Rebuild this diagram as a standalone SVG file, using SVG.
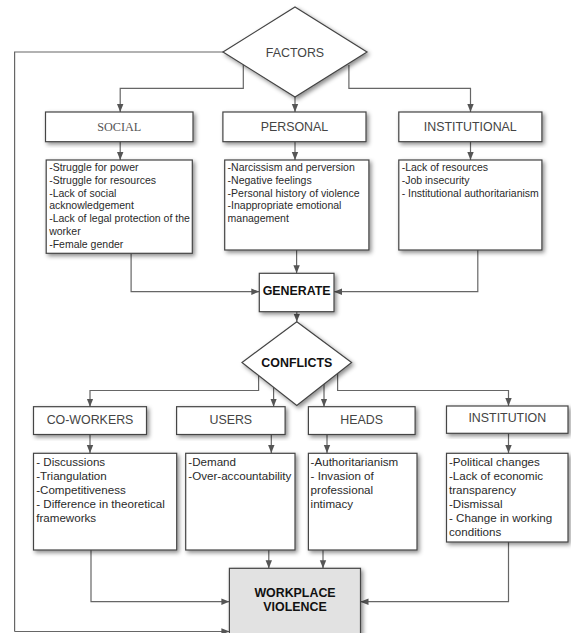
<svg xmlns="http://www.w3.org/2000/svg" width="571" height="633" viewBox="0 0 571 633">
<defs>
<filter id="sh" x="-20%" y="-20%" width="140%" height="140%">
<feDropShadow dx="2" dy="2.2" stdDeviation="2.2" flood-color="#000" flood-opacity="0.45"/>
</filter>
<marker id="ar" markerUnits="userSpaceOnUse" markerWidth="8" markerHeight="8" viewBox="0 0 8 8" refX="8" refY="4" orient="auto">
<path d="M0,0.8 L8,4 L0,7.2 Z" fill="#555"/>
</marker>
</defs>
<style>
.bx{fill:#fff;stroke:#444;stroke-width:1.2;filter:url(#sh)}
.con{fill:none;stroke:#666;stroke-width:1.2;marker-end:url(#ar)}
.ln{fill:none;stroke:#666;stroke-width:1.2}
.lb{font-family:"Liberation Sans",Arial,sans-serif;font-size:12.4px;fill:#444;text-anchor:middle}
.bd{font-family:"Liberation Sans",Arial,sans-serif;font-size:12.4px;font-weight:bold;fill:#111;text-anchor:middle}
.t1{font-family:"Liberation Sans",Arial,sans-serif;font-size:10.5px;fill:#2a2a2a}
.t2{font-family:"Liberation Sans",Arial,sans-serif;font-size:11.6px;fill:#2a2a2a}
</style>
<rect width="571" height="633" fill="#fff"/>

<g id="connectors">
<path class="ln" d="M223,52 H14.6 V631.5"/>
<path class="con" d="M14.6,631.5 H229.4"/>
<path class="con" d="M243.3,65 V88.3 H120.2 V112"/>
<path class="con" d="M295,97 V112"/>
<path class="con" d="M348.9,65 V88.3 H470.5 V112"/>
<path class="con" d="M120.2,141.7 V160"/>
<path class="con" d="M295,141.7 V160"/>
<path class="con" d="M470.5,141.7 V160"/>
<path class="con" d="M131.1,253.3 V291.7 H259.3"/>
<path class="con" d="M296.6,250 V273.3"/>
<path class="con" d="M477.8,250 V291.7 H334"/>
<path class="con" d="M296.8,311.7 V321.7"/>
<path class="con" d="M258.6,375 V390.5 H90 V406.7"/>
<path class="con" d="M273.6,386.5 V406.7"/>
<path class="con" d="M324,383.2 V406.7"/>
<path class="con" d="M337.6,372.6 V390.5 H508.5 V406"/>
<path class="con" d="M90,435 V453"/>
<path class="con" d="M271.3,435 V453"/>
<path class="con" d="M327,435 V453"/>
<path class="con" d="M508.5,433.3 V453"/>
<path class="con" d="M91,550 V601.7 H229.4"/>
<path class="con" d="M268.8,550 V568.3"/>
<path class="con" d="M323,550 V568.3"/>
<path class="con" d="M508.5,542 V601.7 H360.5"/>
</g>

<g id="factors">
<path class="bx" d="M295,7 L367,52 L295,97 L223,52 Z"/>
<text class="lb" x="295" y="56.5" font-size="12.2" fill="#555">FACTORS</text>
</g>

<g id="social">
<rect class="bx" x="45.5" y="112" width="147.5" height="29.7"/>
<text class="lb" x="119.3" y="131" style="font-family:'Liberation Serif','Times New Roman',serif;font-size:12.2px;fill:#555">SOCIAL</text>
</g>
<g id="personal">
<rect class="bx" x="222.9" y="112" width="143.1" height="29.7"/>
<text class="lb" x="294.4" y="131" fill="#555">PERSONAL</text>
</g>
<g id="institutional">
<rect class="bx" x="398.8" y="112" width="143.1" height="29.7"/>
<text class="lb" x="470.3" y="131" fill="#111">INSTITUTIONAL</text>
</g>

<g id="social-details">
<rect class="bx" x="46.2" y="160" width="146.1" height="93.3"/>
<text class="t1" x="49.2" y="171">-Struggle for power</text>
<text class="t1" x="49.2" y="183.8">-Struggle for resources</text>
<text class="t1" x="49.2" y="196.6">-Lack of social</text>
<text class="t1" x="49.2" y="209.4">acknowledgement</text>
<text class="t1" x="49.2" y="222.2">-Lack of legal protection of the</text>
<text class="t1" x="49.2" y="235">worker</text>
<text class="t1" x="49.2" y="247.8">-Female gender</text>
</g>
<g id="personal-details">
<rect class="bx" x="224.7" y="160" width="144.2" height="90"/>
<text class="t1" x="227.6" y="171">-Narcissism and perversion</text>
<text class="t1" x="227.6" y="183.8">-Negative feelings</text>
<text class="t1" x="227.6" y="196.6">-Personal history of violence</text>
<text class="t1" x="227.6" y="209.4">-Inappropriate emotional</text>
<text class="t1" x="227.6" y="222.2">management</text>
</g>
<g id="institutional-details">
<rect class="bx" x="398.8" y="160" width="143.1" height="90"/>
<text class="t1" x="401.7" y="171">-Lack of resources</text>
<text class="t1" x="401.7" y="183.8">-Job insecurity</text>
<text class="t1" x="401.7" y="196.6">- Institutional authoritarianism</text>
</g>

<g id="generate">
<rect class="bx" x="259.3" y="273.3" width="74.7" height="38.4"/>
<text class="bd" x="296.6" y="295.2">GENERATE</text>
</g>

<g id="conflicts">
<path class="bx" d="M296.8,321.7 L351.6,362.5 L296.8,405.5 L242,362.5 Z"/>
<text class="bd" x="296.8" y="367">CONFLICTS</text>
</g>

<g id="co-workers">
<rect class="bx" x="33.5" y="406.7" width="113" height="27.8"/>
<text class="lb" x="90" y="423.5" fill="#333">CO-WORKERS</text>
</g>
<g id="users">
<rect class="bx" x="176.6" y="406.7" width="108.5" height="27.8"/>
<text class="lb" x="230.8" y="423.5" fill="#333">USERS</text>
</g>
<g id="heads">
<rect class="bx" x="308.4" y="406.7" width="106.7" height="27.8"/>
<text class="lb" x="361.7" y="423.5" fill="#333">HEADS</text>
</g>
<g id="institution">
<rect class="bx" x="446.5" y="406" width="121.5" height="27.3"/>
<text class="lb" x="507.3" y="421.8" fill="#333">INSTITUTION</text>
</g>

<g id="co-workers-details">
<rect class="bx" x="33.5" y="453.3" width="143.2" height="96.7"/>
<text class="t2" x="36.2" y="466">- Discussions</text>
<text class="t2" x="36.2" y="479.9">-Triangulation</text>
<text class="t2" x="36.2" y="493.8">-Competitiveness</text>
<text class="t2" x="36.2" y="507.7">- Difference in theoretical</text>
<text class="t2" x="36.2" y="521.6">frameworks</text>
</g>
<g id="users-details">
<rect class="bx" x="185.7" y="453.3" width="109.3" height="96.7"/>
<text class="t2" x="188.3" y="466">-Demand</text>
<text class="t2" x="188.3" y="479.9">-Over-accountability</text>
</g>
<g id="heads-details">
<rect class="bx" x="308.4" y="453.3" width="108.6" height="96.7"/>
<text class="t2" x="310.6" y="466">-Authoritarianism</text>
<text class="t2" x="310.6" y="479.9">- Invasion of</text>
<text class="t2" x="310.6" y="493.8">professional</text>
<text class="t2" x="310.6" y="507.7">intimacy</text>
</g>
<g id="institution-details">
<rect class="bx" x="446.5" y="453.3" width="121.5" height="88.7"/>
<text class="t2" x="449" y="466">-Political changes</text>
<text class="t2" x="449" y="479.9">-Lack of economic</text>
<text class="t2" x="449" y="493.8">transparency</text>
<text class="t2" x="449" y="507.7">-Dismissal</text>
<text class="t2" x="449" y="521.6">- Change in working</text>
<text class="t2" x="449" y="535.5">conditions</text>
</g>

<g id="workplace-violence">
<rect class="bx" x="229.4" y="568.3" width="131.1" height="70" style="fill:#e2e2e2"/>
<text class="bd" x="295" y="596.8" fill="#222">WORKPLACE</text>
<text class="bd" x="295" y="611.2" fill="#222">VIOLENCE</text>
</g>
</svg>
